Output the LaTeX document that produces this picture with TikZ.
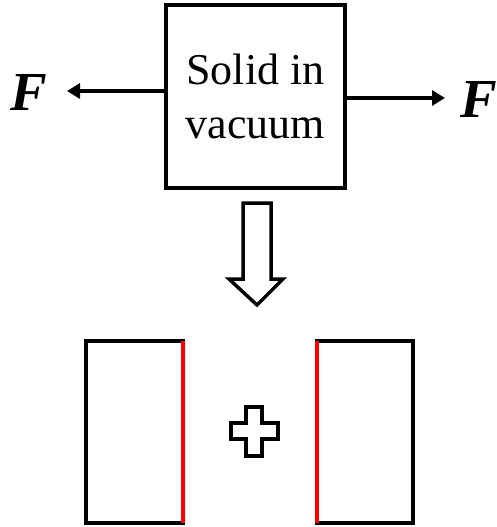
\documentclass[tikz,border=0pt]{standalone}
\usepackage{fontspec}
\setmainfont{Liberation Serif}
\usetikzlibrary{arrows.meta}
\tikzset{
  solidbox/.style={draw, line width=4.5pt, minimum width=179pt, minimum height=183pt, inner sep=0pt, align=center, font=\fontsize{44}{54}\selectfont},
  forcelbl/.style={inner sep=0pt, anchor=base west, font=\fontsize{55}{55}\selectfont\bfseries\itshape},
  forcearrow/.style={line width=4.5pt, -{Triangle[length=13pt,width=15pt]}},
  hollow/.style={draw, line width=3.5pt, fill=white, line join=miter},
  blackedge/.style={line width=4pt, line cap=rect},
  rededge/.style={line width=4.5pt, draw=red}
}
\begin{document}
\begin{tikzpicture}[x=1pt,y=-1pt]
\useasboundingbox (0,0) rectangle (496,527);
\node[solidbox] (solid) at (255.5,96.5) {Solid in\\vacuum};
\coordinate (ltip) at (67,91);
\coordinate (rtip) at (445,98);
\draw[forcearrow] (solid.west |- ltip) -- (ltip);
\draw[forcearrow] (solid.east |- rtip) -- (rtip);
\node[forcelbl] (fl) at (10,110) {F};
\node[forcelbl] (fr) at (460,117) {F};
% hollow down arrow
\draw[hollow] (243,203) -- (271,203) -- (271,279) -- (283,279) -- (257,305) -- (229,279) -- (243,279) -- cycle;
% plus
\draw[hollow] (246,407) -- (262,407) -- (262,423) -- (278,423) -- (278,439) -- (262,439) -- (262,456) -- (246,456) -- (246,439) -- (231,439) -- (231,423) -- (246,423) -- cycle;
% left half
\coordinate (l1) at (183,341);
\coordinate (l2) at (86,341);
\coordinate (l3) at (86,523);
\coordinate (l4) at (183,523);
\draw[blackedge] (l1) -- (l2) -- (l3) -- (l4);
\draw[rededge] (l1) -- (l4);
% right half
\coordinate (r1) at (317,341);
\coordinate (r2) at (413,341);
\coordinate (r3) at (413,523);
\coordinate (r4) at (317,523);
\draw[blackedge] (r1) -- (r2) -- (r3) -- (r4);
\draw[rededge] (r1) -- (r4);
\end{tikzpicture}
\end{document}
